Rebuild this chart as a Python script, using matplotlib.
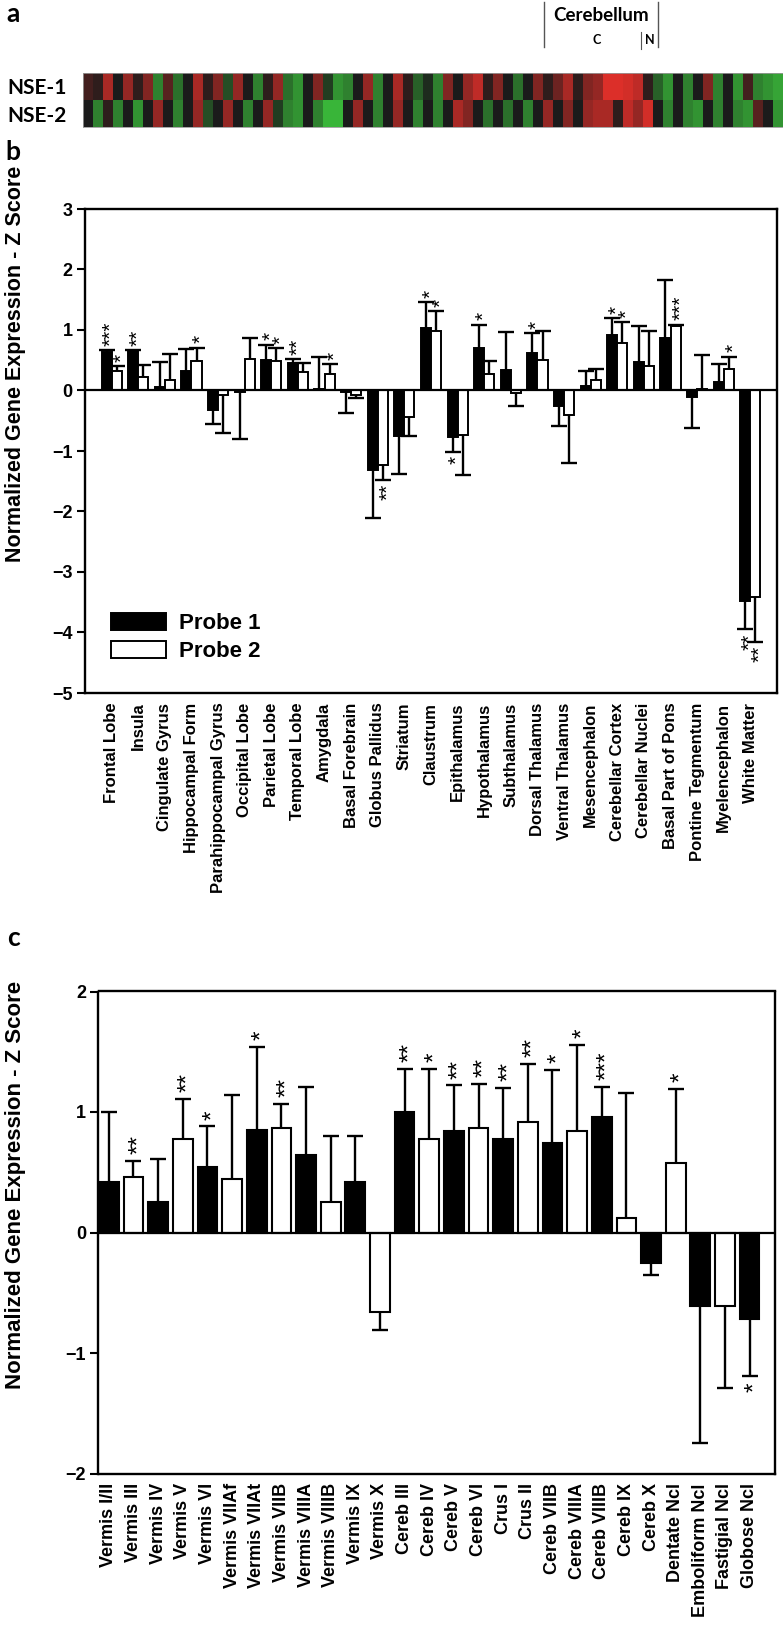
import numpy as np
import matplotlib
matplotlib.use('Agg')
import matplotlib.pyplot as plt
from matplotlib.colors import LinearSegmentedColormap

plt.rcParams['font.family'] = ['Liberation Sans', 'DejaVu Sans']
plt.rcParams['font.weight'] = 'bold'

# ---------------- data: panel a (heat map, red = high, green = low) ----------------
heat_rows = ['NSE-1', 'NSE-2']
nse1 = [0.2, 0.1, 0.7, 0.0, 0.6, 0.1, 0.5, -0.6, 0.3, -0.5,
        0.0, 0.7, 0.1, 0.5, -0.3, 0.6, 0.0, -0.6, 0.1, 0.6,
        -0.5, -0.7, 0.0, 0.5, -0.2, -0.7, -0.6, 0.0, 0.6, -0.6,
        0.0, 0.7, 0.1, -0.4, -0.1, -0.6, 0.5, 0.0, 0.6, 0.8,
        0.1, 0.5, 0.0, -0.5, 0.0, 0.5, 0.1, 0.4, 0.7, 0.1,
        0.5, 0.6, 0.95, 0.95, 0.9, 0.8, 0.1, -0.4, -0.7, 0.0,
        -0.6, 0.0, 0.5, -0.6, 0.0, -0.7, 0.2, -0.6, -0.7, -0.8]
nse2 = [0.0, -0.6, 0.1, -0.6, 0.0, -0.7, 0.0, 0.6, 0.0, -0.6,
        0.0, 0.6, -0.3, 0.0, 0.6, 0.0, -0.6, 0.0, 0.6, -0.2,
        -0.6, -0.7, 0.0, -0.6, -0.9, -0.9, 0.0, 0.6, 0.0, -0.6,
        0.0, 0.6, 0.0, -0.6, 0.0, -0.6, 0.0, 0.7, 0.5, 0.0,
        -0.5, 0.0, -0.5, 0.0, -0.6, 0.0, 0.6, 0.0, 0.5, 0.0,
        0.6, 0.7, 0.7, 0.1, 0.8, 0.6, 0.9, 0.0, -0.6, 0.0,
        -0.6, -0.7, 0.0, -0.6, 0.0, -0.6, -0.7, 0.3, 0.0, -0.7]
cereb_start, nuclei_start, cereb_end = 45.6, 55.3, 57.0   # column positions of bracket

# ---------------- data: panel b ----------------
regions_b = ['Frontal Lobe', 'Insula', 'Cingulate Gyrus', 'Hippocampal Form',
             'Parahippocampal Gyrus', 'Occipital Lobe', 'Parietal Lobe', 'Temporal Lobe',
             'Amygdala', 'Basal Forebrain', 'Globus Pallidus', 'Striatum', 'Claustrum',
             'Epithalamus', 'Hypothalamus', 'Subthalamus', 'Dorsal Thalamus',
             'Ventral Thalamus', 'Mesencephalon', 'Cerebellar Cortex', 'Cerebellar Nuclei',
             'Basal Part of Pons', 'Pontine Tegmentum', 'Myelencephalon', 'White Matter']
probe1_b = [0.64, 0.65, 0.06, 0.32, -0.33, -0.02, 0.51, 0.46, 0.02, -0.03, -1.31, -0.76, 1.04,
            -0.77, 0.70, 0.34, 0.62, -0.26, 0.07, 0.91, 0.47, 0.86, -0.11, 0.14, -3.48]
probe1_err_b = [0.03, 0.02, 0.41, 0.37, 0.22, 0.78, 0.25, 0.06, 0.53, 0.35, 0.80, 0.62, 0.42,
                0.24, 0.39, 0.63, 0.33, 0.33, 0.25, 0.29, 0.60, 0.97, 0.51, 0.30, 0.47]
probe2_b = [0.33, 0.22, 0.18, 0.49, -0.08, 0.52, 0.48, 0.30, 0.28, -0.08, -1.23, -0.44, 0.98,
            -0.73, 0.28, -0.04, 0.51, -0.41, 0.18, 0.78, 0.40, 1.07, 0.03, 0.36, -3.42]
probe2_err_b = [0.08, 0.20, 0.43, 0.22, 0.63, 0.35, 0.22, 0.16, 0.16, 0.05, 0.25, 0.32, 0.33,
                0.66, 0.20, 0.22, 0.48, 0.79, 0.18, 0.35, 0.58, 0.02, 0.56, 0.20, 0.73]
probe1_stars_b = [3, 2, 0, 0, 0, 0, 1, 2, 0, 0, 0, 0, 1, 1, 1, 0, 1, 0, 0, 1, 0, 0, 0, 0, 2]
probe2_stars_b = [1, 0, 0, 1, 0, 0, 1, 0, 1, 0, 2, 0, 1, 0, 0, 0, 0, 0, 0, 1, 0, 3, 0, 1, 2]

# ---------------- data: panel c ----------------
regions_c = ['Vermis I/II', 'Vermis III', 'Vermis IV', 'Vermis V', 'Vermis VI', 'Vermis VIIAf',
             'Vermis VIIAt', 'Vermis VIIB', 'Vermis VIIIA', 'Vermis VIIIB', 'Vermis IX',
             'Vermis X', 'Cereb III', 'Cereb IV', 'Cereb V', 'Cereb VI', 'Crus I', 'Crus II',
             'Cereb VIIB', 'Cereb VIIIA', 'Cereb VIIIB', 'Cereb IX', 'Cereb X', 'Dentate Ncl',
             'Emboliform Ncl', 'Fastigial Ncl', 'Globose Ncl']
values_c = [0.42, 0.46, 0.25, 0.78, 0.54, 0.44, 0.85, 0.87, 0.64, 0.25, 0.42, -0.66, 1.00, 0.78,
            0.84, 0.87, 0.78, 0.92, 0.74, 0.84, 0.96, 0.12, -0.25, 0.58, -0.61, -0.61, -0.72]
err_c = [0.58, 0.13, 0.36, 0.33, 0.34, 0.70, 0.69, 0.20, 0.57, 0.55, 0.38, 0.15, 0.36, 0.58,
         0.38, 0.36, 0.42, 0.48, 0.61, 0.72, 0.25, 1.04, 0.10, 0.61, 1.14, 0.68, 0.47]
stars_c = [0, 2, 0, 2, 1, 0, 1, 2, 0, 0, 0, 0, 2, 1, 2, 2, 2, 2, 1, 1, 3, 0, 0, 1, 0, 0, 1]

# ---------------- layout helpers ----------------
W, H = 783, 1626
fig = plt.figure(figsize=(W / 100, H / 100), dpi=100)


def rect(x0, y0, x1, y1):
    return [x0 / W, 1 - y1 / H, (x1 - x0) / W, (y1 - y0) / H]


def one_sided_err(ax, xs, vals, errs, capsize):
    xs = np.asarray(xs, float)
    vals = np.asarray(vals, float)
    errs = np.asarray(errs, float)
    lower = np.where(vals >= 0, 0.0, errs)
    upper = np.where(vals >= 0, errs, 0.0)
    _, caps, _ = ax.errorbar(xs, vals, yerr=[lower, upper], fmt='none', ecolor='black',
                             elinewidth=1.7, capsize=capsize, capthick=1.7, zorder=3)
    # keep only the outer caps (at the tip of each error bar)
    tips = np.where(vals >= 0, vals + errs, vals - errs)
    for cap in caps:
        yd = np.asarray(cap.get_ydata(), float)
        xd = np.asarray(cap.get_xdata(), float)
        keep = np.isclose(yd, tips)
        cap.set_data(xd[keep], yd[keep])


def add_stars(ax, xs, vals, errs, counts, fs, gap, dx):
    for xi, v, e, n in zip(xs, vals, errs, counts):
        if n == 0:
            continue
        up = v >= 0
        tip = v + e if up else v - e
        ax.annotate('*' * n, xy=(xi, tip), xytext=(dx, gap if up else -gap),
                    textcoords='offset points', rotation=90, ha='center',
                    va='bottom' if up else 'top', fontsize=fs, fontweight='normal',
                    family=['Liberation Sans', 'DejaVu Sans'])


# ---------------- panel a ----------------
axa = fig.add_axes(rect(83, 73, 783, 127))
cmap = LinearSegmentedColormap.from_list('rg', ['#3dc63d', '#1b1b1b', '#e6302a'])
axa.imshow(np.array([nse1, nse2]), aspect='auto', cmap=cmap, vmin=-1, vmax=1,
           interpolation='nearest')
axa.set_xticks([])
axa.set_yticks(range(len(heat_rows)))
axa.set_yticklabels(heat_rows, family=['Lato', 'DejaVu Sans'], fontsize=15, fontweight='bold')
axa.tick_params(axis='y', length=0, pad=12)
for s in axa.spines.values():
    s.set_color('#999999')
    s.set_linewidth(0.6)
xt = axa.get_xaxis_transform()
axa.plot([cereb_start, cereb_start], [1.48, 2.32], color='#555555', lw=1.0,
         transform=xt, clip_on=False)
axa.plot([cereb_end, cereb_end], [1.48, 2.32], color='#555555', lw=1.0,
         transform=xt, clip_on=False)
axa.plot([nuclei_start, nuclei_start], [1.45, 1.75], color='#555555', lw=0.8,
         transform=xt, clip_on=False)
axa.text((cereb_start + cereb_end) / 2, 2.06, 'Cerebellum', transform=xt, ha='center',
         va='center', fontsize=13.5, fontweight='bold', family=['Lato', 'DejaVu Sans'])
axa.text((cereb_start + nuclei_start) / 2 + 0.4, 1.62, 'C', transform=xt, ha='center',
         va='center', fontsize=9, fontweight='bold', family=['Lato', 'DejaVu Sans'])
axa.text((nuclei_start + cereb_end) / 2, 1.62, 'N', transform=xt, ha='center',
         va='center', fontsize=9, fontweight='bold', family=['Lato', 'DejaVu Sans'])

# panel letters
for letter, ypx in (('a', 14), ('b', 152), ('c', 938)):
    fig.text(13 / W, 1 - ypx / H, letter, ha='center', va='center', fontsize=19,
             fontweight='bold', family=['Lato', 'DejaVu Sans'])

# ---------------- panel b ----------------
axb = fig.add_axes(rect(85, 209, 777, 693))
xb = np.arange(len(regions_b))
wb = 0.38
axb.bar(xb - wb / 2, probe1_b, wb, color='black', edgecolor='black', lw=1.4,
        label='Probe 1', zorder=2)
axb.bar(xb + wb / 2, probe2_b, wb, color='white', edgecolor='black', lw=1.4,
        label='Probe 2', zorder=2)
one_sided_err(axb, xb - wb / 2, probe1_b, probe1_err_b, capsize=5.5)
one_sided_err(axb, xb + wb / 2, probe2_b, probe2_err_b, capsize=5.5)
add_stars(axb, xb - wb / 2, probe1_b, probe1_err_b, probe1_stars_b, fs=15, gap=3, dx=3.5)
add_stars(axb, xb + wb / 2, probe2_b, probe2_err_b, probe2_stars_b, fs=15, gap=3, dx=3.5)
axb.axhline(0, color='black', lw=1.6, zorder=4)
axb.set_xlim(-1, 25)
axb.set_ylim(-5, 3)
axb.set_yticks(range(-5, 4))
axb.set_xticks(xb)
axb.set_xticklabels(regions_b, rotation=90, fontsize=12, fontweight='bold')
axb.tick_params(axis='x', length=0, pad=7)
axb.tick_params(axis='y', direction='out', length=6, width=1.5, labelsize=13, pad=3)
for s in axb.spines.values():
    s.set_linewidth(1.7)
leg = axb.legend(loc='upper left', bbox_to_anchor=(0.038, 0.165), frameon=False,
                 fontsize=16, handlelength=2.45, handleheight=0.78, handletextpad=0.6,
                 labelspacing=0.3, borderpad=0, borderaxespad=0)
for t in leg.get_texts():
    t.set_fontweight('bold')
fig.text(15.5 / W, 1 - 364 / H, 'Normalized Gene Expression - Z Score', rotation=90,
         ha='center', va='center', fontsize=15.5, fontweight='bold')

# ---------------- panel c ----------------
axc = fig.add_axes(rect(98.5, 991.5, 775, 1473.5))
xc = np.arange(len(regions_c))
colors_c = ['black' if i % 2 == 0 else 'white' for i in xc]
axc.bar(xc, values_c, 0.8, color=colors_c, edgecolor='black', lw=1.5, zorder=2)
one_sided_err(axc, xc, values_c, err_c, capsize=6)
add_stars(axc, xc, values_c, err_c, stars_c, fs=17.5, gap=5, dx=4)
axc.axhline(0, color='black', lw=1.6, zorder=4)
axc.set_xlim(-0.42, 27.03)
axc.set_ylim(-2, 2)
axc.set_yticks(range(-2, 3))
axc.set_xticks(xc)
axc.set_xticklabels(regions_c, rotation=90, fontsize=13, fontweight='bold')
axc.tick_params(axis='x', length=0, pad=7)
axc.tick_params(axis='y', direction='out', length=6, width=1.5, labelsize=13, pad=3)
for s in axc.spines.values():
    s.set_linewidth(1.7)
fig.text(15.5 / W, 1 - 1185 / H, 'Normalized Gene Expression - Z Score', rotation=90,
         ha='center', va='center', fontsize=16, fontweight='bold')

fig.savefig('out.png', dpi=100)
